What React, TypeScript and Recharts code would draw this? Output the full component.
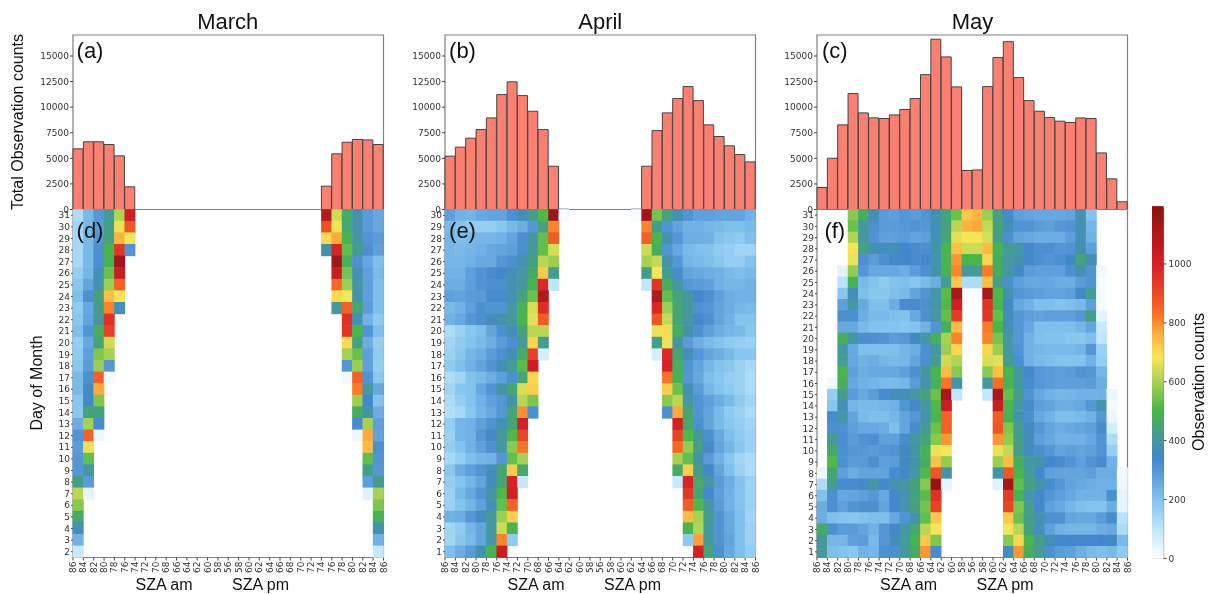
import React from "react";
import { BarChart, Bar, XAxis, YAxis, ScatterChart, Scatter, ReferenceArea } from "recharts";

const barsMarch = [5925,6610,6610,6350,5240,2215,0,0,0,0,0,0,0,0,0,0,0,0,0,0,0,0,0,0,2280,5440,6575,6840,6800,6350];
const barsApril = [5210,6090,6970,7810,8950,11230,12470,11130,9600,7810,4230,30,0,0,0,0,0,0,30,4230,7710,9440,10840,12010,10640,8270,7130,6220,5370,4650];
const barsMay = [2150,5010,8270,11330,9440,8950,8890,9240,9770,10840,13180,16640,14910,11980,3810,3870,12010,14840,16400,12890,10640,9600,8980,8630,8500,8950,8890,5530,2995,750];

const szaTicks = [86,84,82,80,78,76,74,72,70,68,66,64,62,60,58,56,58,60,62,64,66,68,70,72,74,76,78,80,82,84,86];
const countTicks = [0,2500,5000,7500,10000,12500,15000];
const colorbarTicks = [0,200,400,600,800,1000];

// rows run from the last day of the month down; am rows start at the left edge, pm rows end at the right edge
const marchDays = [31,30,29,28,27,26,25,24,23,22,21,20,19,18,17,16,15,14,13,12,11,10,9,8,7,6,5,4,3,2];
const marchAm = [
[130,220,300,420,610,1020],[150,220,290,430,670,880],[140,220,300,440,760,680],[140,220,320,500,950,310],
[140,220,320,490,1140],[170,230,370,540,1030],[190,270,380,590,860],[210,320,440,750,690],
[180,260,430,810,370],[190,270,410,960],[210,310,480,920],[170,260,440,640],[180,280,560,600],[190,290,590,300],
[220,320,860,20],[220,360,770],[190,350,560],[190,440,440],[250,600,330],[310,860,30],[290,670],[300,530],
[300,400],[430,290],[620,40],[570],[470],[370],[240],[90],
];
const marchPm = [
[1090,640,470,380,290,260],[890,690,460,380,290,260],[700,770,500,400,310,290],[390,990,530,420,320,280],
[1140,490,320,260,210],[1040,550,380,280,220],[850,590,400,280,210],[700,680,390,280,210],
[410,860,450,290,210],[960,380,240,180],[950,500,310,210],[700,440,250,170],[600,540,280,180],[300,590,280,170],
[20,860,310,190],[820,400,260],[590,340,200],[470,390,250],[330,600,280],[30,770,270],[750,320],[530,310],
[430,300],[280,420],[50,600],[560],[490],[390],[240],[90],
];

const aprilDays = [30,29,28,27,26,25,24,23,22,21,20,19,18,17,16,15,14,13,12,11,10,9,8,7,6,5,4,3,2,1];
const aprilAm = [
[280,240,230,260,270,270,320,370,420,510,1150,15],
[220,200,180,170,170,190,220,250,300,440,810],
[230,210,220,230,230,240,270,320,400,530,870],
[230,220,230,240,260,270,280,320,410,530,650],
[230,230,240,260,260,300,320,380,430,620,590],
[240,240,280,310,330,340,370,400,460,730,420],
[250,250,280,310,320,320,380,400,490,980,100],
[280,270,290,290,330,330,380,440,540,1100],
[220,240,280,320,310,310,400,490,650,970],
[240,260,300,320,360,380,410,500,660,870],
[130,160,190,210,270,320,370,440,620,620],
[150,180,200,220,250,290,320,410,710,420],
[160,190,230,250,290,320,370,470,920,70],
[180,210,240,270,310,370,420,520,1030],
[130,150,200,220,250,280,320,450,710],
[150,190,200,260,310,390,450,650,720],
[130,170,200,240,280,300,390,620,560],
[120,140,190,230,260,300,450,800,320],
[170,230,240,280,310,380,450,1010],
[160,230,240,300,350,410,510,910],
[170,200,240,280,320,400,570,830],
[140,170,210,230,240,300,530,600],
[190,250,280,310,360,450,720,460],
[170,200,230,270,360,450,990,90],
[160,220,260,310,390,510,1010],
[160,200,230,280,370,530,860],
[240,250,300,360,410,590,720],
[150,180,230,270,400,640,500],
[150,190,220,270,400,810,180],
[210,250,290,380,490,1030],
];
const aprilPm = [
[15,1150,550,440,380,310,280,280,270,270,270,240],
[810,430,310,270,240,240,230,220,210,210,220],
[860,500,380,300,250,250,240,200,190,180,210],
[640,480,310,260,220,210,200,180,170,150,150],
[600,630,390,300,230,220,210,190,170,170,200],
[430,680,420,330,270,260,250,240,220,210,220],
[100,950,480,400,300,290,280,240,230,230,240],
[1100,530,440,400,340,320,280,250,240,240],
[980,590,450,410,320,300,270,250,230,220],
[880,630,450,400,340,320,270,240,200,200],
[670,700,470,390,320,280,250,230,220,190],
[430,670,400,290,250,220,200,180,170,160],
[70,980,450,370,300,270,250,220,190,190],
[1000,480,310,270,230,200,190,160,140],
[830,490,300,260,210,190,170,160,130],
[720,540,380,290,230,200,180,160,130],
[570,620,400,310,280,250,220,180,150],
[320,770,450,310,270,220,180,160,130],
[1010,460,320,270,220,190,170,150],
[920,510,410,320,260,210,180,160],
[850,580,430,340,270,230,190,160],
[600,530,380,290,240,190,150,130],
[470,720,430,340,270,210,160,130],
[90,990,460,400,290,250,200,160],
[940,460,340,280,240,200,160],
[870,510,410,290,240,200,160],
[750,600,420,310,260,210,150],
[500,610,410,310,260,210,160],
[180,780,410,310,270,210,160],
[1010,450,320,260,210,170],
];

const mayDays = [31,30,29,28,27,26,25,24,23,22,21,20,19,18,17,16,15,14,13,12,11,10,9,8,7,6,5,4,3,2,1];
const mayRows = [
[0,0,0,570,470,370,290,280,300,290,310,380,440,540,730,760,590,430,330,280,270,260,260,260,270,380,200,0,0,0],
[0,0,0,540,410,320,290,290,300,310,300,370,440,620,760,770,630,440,370,310,310,290,280,300,310,380,230,0,0,0],
[0,0,0,610,410,310,280,280,290,270,280,380,450,660,680,680,650,430,320,270,260,250,250,250,280,370,240,0,0,0],
[0,0,0,690,440,380,360,370,340,330,320,390,500,740,640,640,750,490,420,400,340,320,320,300,310,380,280,0,0,0],
[0,0,0,670,320,290,320,340,340,330,340,380,500,790,500,500,710,470,400,390,340,320,310,320,350,440,370,0,0,0],
[0,0,50,580,300,260,260,260,250,290,320,390,490,810,410,420,820,470,400,340,290,280,280,280,320,380,310,25,0,0],
[0,0,110,490,220,200,180,200,210,190,220,250,420,730,130,130,740,430,320,280,260,260,260,250,250,290,310,15,0,0],
[0,0,190,370,210,190,190,210,220,270,310,400,520,1120,0,0,1120,510,380,300,290,280,270,270,280,350,420,15,0,0],
[0,0,280,400,260,210,210,250,330,330,320,400,510,1020,0,0,960,500,350,260,240,210,210,200,210,220,280,15,0,0],
[0,0,320,320,250,220,220,210,200,260,320,400,530,930,0,0,950,530,370,300,280,270,280,280,280,300,430,40,0,0],
[0,0,260,260,220,200,200,200,190,200,240,310,480,750,0,0,820,500,380,300,260,210,210,210,210,230,270,90,0,0],
[0,0,480,400,320,320,310,290,300,350,400,480,600,810,0,0,810,550,400,300,240,210,200,200,190,190,210,100,0,0],
[0,0,400,260,210,210,210,210,230,250,320,400,590,710,0,0,710,590,400,310,240,230,220,220,220,230,300,160,0,0],
[0,0,420,260,240,250,230,220,230,270,320,420,640,610,0,0,650,660,420,320,240,220,210,200,200,200,240,170,0,0],
[0,0,500,280,250,260,260,260,280,320,400,500,750,570,0,0,570,740,500,410,340,300,290,280,290,310,300,230,0,0],
[0,25,480,260,240,230,220,220,230,290,380,480,830,390,0,0,400,840,490,410,330,300,290,280,280,280,290,250,0,0],
[0,170,430,290,260,290,330,370,370,410,440,540,1120,100,0,0,100,1120,530,430,310,260,240,230,230,240,240,240,30,0],
[0,190,370,230,220,220,230,240,310,340,400,510,1030,0,0,0,0,1040,500,400,330,280,270,250,250,260,300,380,20,0],
[0,330,400,270,220,210,210,230,270,300,380,500,860,0,0,0,0,870,490,390,320,260,240,210,210,220,240,300,30,0],
[0,320,320,280,260,260,250,210,270,330,420,540,860,0,0,0,0,880,560,420,350,300,270,250,260,270,280,330,70,0],
[0,420,320,290,310,320,280,280,330,400,440,570,790,0,0,0,0,790,580,430,360,280,260,240,240,240,260,310,130,0],
[0,460,320,300,300,290,300,310,350,390,490,670,680,0,0,0,0,670,630,430,360,320,300,270,280,270,280,310,170,0],
[0,510,320,290,290,320,280,290,350,390,470,740,580,0,0,0,0,590,750,470,400,390,340,330,310,280,310,330,240,0],
[30,450,280,250,270,270,270,330,340,400,510,880,390,0,0,0,0,390,880,500,420,340,280,270,270,270,280,250,250,25],
[130,420,330,330,340,400,340,380,400,440,570,1170,40,0,0,0,0,50,1130,530,440,390,330,300,270,260,250,240,240,30],
[200,320,260,270,280,300,260,340,380,440,520,960,0,0,0,0,0,0,930,490,400,340,300,280,260,240,240,240,320,40],
[250,320,280,310,320,320,270,340,380,440,550,920,0,0,0,0,0,0,910,560,430,340,280,260,230,210,200,200,250,40],
[250,210,200,190,200,210,210,260,310,380,530,730,0,0,0,0,0,0,730,540,430,380,320,320,270,260,260,290,330,110],
[460,320,290,290,270,240,300,340,400,460,620,680,0,0,0,0,0,0,680,620,440,370,280,240,230,230,230,250,260,130],
[410,230,230,280,290,220,300,370,410,490,730,560,0,0,0,0,0,0,570,710,500,420,370,340,340,340,340,340,350,220],
[410,210,200,190,240,230,320,320,410,470,790,330,0,0,0,0,0,0,360,790,480,420,320,290,280,250,220,210,220,180],
];

const VMAX = 1190;
const STOPS: [number, string][] = [
  [0, "#ffffff"], [100, "#c0e6fa"], [200, "#83c3ee"], [280, "#5f9fdb"], [340, "#4288cb"], [410, "#45999c"],
  [450, "#45a573"], [505, "#49b849"], [600, "#a6d152"], [684, "#f9e658"], [760, "#fbb441"], [825, "#f97626"],
  [900, "#ea4a25"], [1000, "#d72027"], [1190, "#8c1414"],
];
const hex = (s: string) => [1, 3, 5].map((i) => parseInt(s.slice(i, i + 2), 16));
function colorOf(v: number) {
  for (let i = 1; i < STOPS.length; i++) {
    if (v <= STOPS[i][0]) {
      const [a, ca] = STOPS[i - 1];
      const [b, cb] = STOPS[i];
      const t = (v - a) / (b - a);
      const A = hex(ca), B = hex(cb);
      return `rgb(${A.map((c, k) => Math.round(c + (B[k] - c) * t)).join(",")})`;
    }
  }
  return STOPS[STOPS.length - 1][1];
}

const PLOT_W = 310.5;
const BAR_H = 174.5;
const HEAT_H = 348;
const AXIS_W = 45;
const RIGHT = 10;
const TICK = { fontSize: 9, fontFamily: "DejaVu Sans", fill: "#333" };
const BORDER = "#808080";

type Cell = { x: number; y: number; v: number };
function cellsFrom(days: number[], am: number[][], pm: number[][]): Cell[] {
  const out: Cell[] = [];
  days.forEach((d, r) => {
    am[r].forEach((v, i) => { if (v > 0) out.push({ x: i + 0.5, y: d, v }); });
    pm[r].forEach((v, i) => { if (v > 0) out.push({ x: 30 - pm[r].length + i + 0.5, y: d, v }); });
  });
  return out;
}
function cellsFull(days: number[], rows: number[][]): Cell[] {
  const out: Cell[] = [];
  days.forEach((d, r) => rows[r].forEach((v, i) => { if (v > 0) out.push({ x: i + 0.5, y: d, v }); }));
  return out;
}

function TopBars({ left, values }: { left: number; values: number[] }) {
  const data = values.map((v, i) => ({ bin: i, v }));
  return (
    <div style={{ position: "absolute", left: left - AXIS_W, top: 33 }}>
      <BarChart width={AXIS_W + PLOT_W + RIGHT} height={BAR_H + 12} data={data} barCategoryGap={0}
        margin={{ top: 2, right: RIGHT, bottom: 10, left: 0 }}>
        <XAxis dataKey="bin" hide />
        <YAxis width={AXIS_W} domain={[0, 17050]} ticks={countTicks} interval={0} tick={TICK} tickSize={3}
          tickMargin={1} axisLine={false} tickLine={{ stroke: "#444" }} allowDataOverflow />
        <ReferenceArea x1={0} x2={29} y1={0} y2={17050} fill="none" stroke={BORDER} strokeWidth={1.2} ifOverflow="visible" />
        <Bar dataKey="v" fill="#fb8072" stroke="#444" strokeWidth={1} isAnimationActive={false} />
      </BarChart>
    </div>
  );
}

function XTick({ x, y, payload }: any) {
  const yy = y + 1;
  return (
    <text x={x} y={yy} dy={3} textAnchor="end" fontSize={9} fontFamily="DejaVu Sans" fill="#333"
      transform={`rotate(-90 ${x} ${yy})`}>
      {szaTicks[payload.value]}
    </text>
  );
}

function Heat({ left, cells, days }: { left: number; cells: Cell[]; days: number[] }) {
  const lo = days[days.length - 1] - 0.5;
  const hi = days[0] + 0.5;
  const w = PLOT_W / 30 + 0.6;
  const h = HEAT_H / days.length + 0.6;
  const xTicks = szaTicks.map((_, i) => i);
  return (
    <div style={{ position: "absolute", left: left - AXIS_W, top: 207 }}>
      <ScatterChart width={AXIS_W + PLOT_W + RIGHT} height={2.5 + HEAT_H + 30} margin={{ top: 2.5, right: RIGHT, bottom: 0, left: 0 }}>
        <XAxis type="number" dataKey="x" domain={[0, 30]} ticks={xTicks} interval={0} height={30} tick={<XTick />}
          tickSize={3} tickMargin={0} axisLine={false} tickLine={{ stroke: "#444" }} />
        <YAxis type="number" dataKey="y" domain={[lo, hi]} ticks={days} interval={0} width={AXIS_W} tick={TICK}
          tickSize={2} tickMargin={1} axisLine={false} tickLine={{ stroke: "#444" }} />
        <Scatter data={cells} isAnimationActive={false}
          shape={(p: any) => <rect x={p.cx - w / 2} y={p.cy - h / 2} width={w} height={h} fill={colorOf(p.payload.v)} />} />
        <ReferenceArea x1={0} x2={30} y1={lo} y2={hi} fill="none" stroke={BORDER} strokeWidth={1.2} ifOverflow="visible" />
      </ScatterChart>
    </div>
  );
}

function ColorBar() {
  const cells = Array.from({ length: 239 }, (_, i) => ({ x: 0.5, y: i * 5 + 2.5 }));
  const W = 11.5, H = 350.4;
  return (
    <div style={{ position: "absolute", left: 1152, top: 201 }}>
      <ScatterChart width={56} height={H + 14} margin={{ top: 6.3, right: 0, bottom: 7, left: 0 }}>
        <XAxis type="number" dataKey="x" domain={[0, 1]} hide />
        <YAxis type="number" dataKey="y" orientation="right" domain={[0, VMAX]} ticks={colorbarTicks} interval={0}
          width={56 - W} tick={TICK} tickSize={3} tickMargin={2} axisLine={false} tickLine={{ stroke: "#444" }} />
        <Scatter data={cells} isAnimationActive={false}
          shape={(p: any) => <rect x={p.cx - W / 2} y={p.cy - 1.2} width={W} height={2.4} fill={colorOf(p.payload.y)} />} />
        <ReferenceArea x1={0} x2={1} y1={0} y2={VMAX} fill="none" stroke={BORDER} strokeWidth={1.2} ifOverflow="visible" />
      </ScatterChart>
    </div>
  );
}

function T({ x, y, size, rot, children }: { x: number; y: number; size: number; rot?: boolean; children: React.ReactNode }) {
  return (
    <div style={{
      position: "absolute", left: x, top: y, fontSize: size, lineHeight: 1, color: "#111", whiteSpace: "nowrap",
      fontFamily: "Liberation Sans", transform: `translate(-50%,-50%)${rot ? " rotate(-90deg)" : ""}`,
    }}>{children}</div>
  );
}

const PANELS = [
  { left: 72.5, title: "March", top: "(a)", low: "(d)", bars: barsMarch, cells: cellsFrom(marchDays, marchAm, marchPm), days: marchDays, am: 164, pm: 260.5 },
  { left: 445, title: "April", top: "(b)", low: "(e)", bars: barsApril, cells: cellsFrom(aprilDays, aprilAm, aprilPm), days: aprilDays, am: 536, pm: 632.5 },
  { left: 817.3, title: "May", top: "(c)", low: "(f)", bars: barsMay, cells: cellsFull(mayDays, mayRows), days: mayDays, am: 908.5, pm: 1005 },
];

export default function App() {
  return (
    <div style={{ position: "absolute", left: 0, top: 0, width: 1208, height: 594, background: "#fff", overflow: "hidden", filter: "blur(0.35px)" }}>
      {PANELS.map((p) => (
        <React.Fragment key={p.title}>
          <TopBars left={p.left} values={p.bars} />
          <Heat left={p.left} cells={p.cells} days={p.days} />
          <T x={p.left + PLOT_W / 2} y={22} size={22}>{p.title}</T>
          <T x={p.left + 17.5} y={51} size={22}>{p.top}</T>
          <T x={p.left + 17.5} y={231} size={22}>{p.low}</T>
          <T x={p.am} y={585} size={16}>SZA am</T>
          <T x={p.pm} y={585} size={16}>SZA pm</T>
        </React.Fragment>
      ))}
      <ColorBar />
      <T x={18} y={122} size={16} rot>Total Observation counts</T>
      <T x={37} y={383} size={16} rot>Day of Month</T>
      <T x={1199} y={382} size={16} rot>Observation counts</T>
    </div>
  );
}
